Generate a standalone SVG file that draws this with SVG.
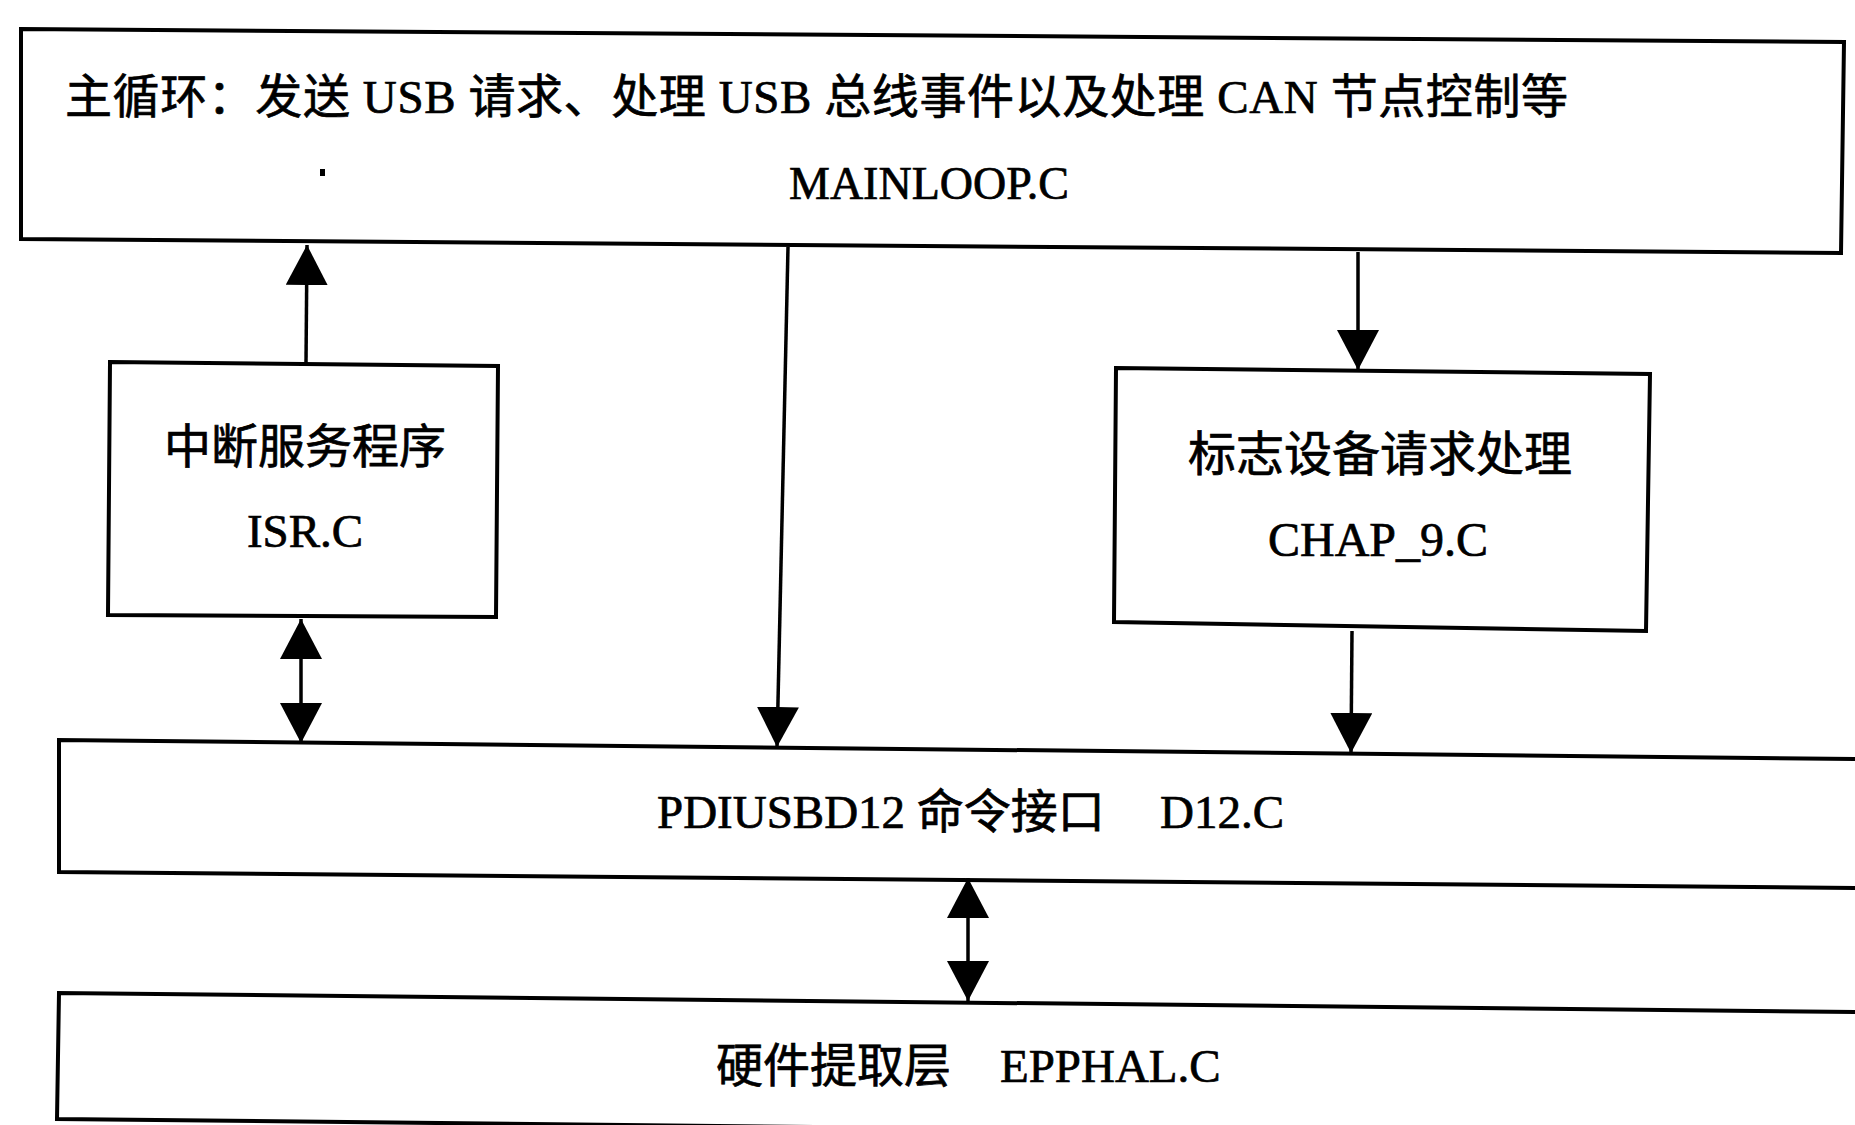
<svg xmlns="http://www.w3.org/2000/svg" width="1855" height="1125" viewBox="0 0 1855 1125">
<style>
.box{fill:none;stroke:#000;stroke-width:4;stroke-linejoin:miter}
.con{fill:none;stroke:#000;stroke-width:3.5}
.t{font-family:"Liberation Serif","Noto Sans CJK SC",serif;fill:#000;stroke:#000;stroke-width:0.7}
.c{text-anchor:middle}
</style>
<defs>
<marker id="ah" markerUnits="userSpaceOnUse" markerWidth="42" markerHeight="42" refX="40" refY="21" orient="auto-start-reverse" viewBox="0 0 42 42">
<path d="M0,0 L40,21 L0,42 Z" fill="#000"/>
</marker>
</defs>
<rect width="1855" height="1125" fill="#fff"/>
<g id="mainloop">
<path class="box" d="M21,29 L1844,42 L1841,253 L21,239 Z"/>
<text class="t" x="65" y="113" font-size="47" textLength="1503" lengthAdjust="spacing">主循环：发送 USB 请求、处理 USB 总线事件以及处理 CAN 节点控制等</text>
<rect x="320" y="169" width="5" height="7" fill="#000"/>
<text class="t" x="789" y="199" font-size="46">MAINLOOP.C</text>
</g>
<g id="isr">
<path class="box" d="M110,362 L498,366 L496,617 L108,615 Z"/>
<text class="t c" x="305" y="463" font-size="47">中断服务程序</text>
<text class="t c" x="305" y="547" font-size="47">ISR.C</text>
</g>
<g id="chap9">
<path class="box" d="M1116,368 L1650,374 L1646,631 L1114,622 Z"/>
<text class="t c" x="1380" y="471" font-size="48">标志设备请求处理</text>
<text class="t c" x="1378" y="556" font-size="48">CHAP_9.C</text>
</g>
<g id="d12">
<path class="box" d="M1857,759 L59,740 L59,872 L1857,888"/>
<text class="t" y="828" font-size="47"><tspan x="657">PDIUSBD12 命令接口</tspan><tspan x="1160">D12.C</tspan></text>
</g>
<g id="epphal">
<path class="box" d="M1857,1012 L59,993 L57,1119 L1857,1138"/>
<text class="t" y="1082" font-size="47"><tspan x="716">硬件提取层</tspan><tspan x="1000">EPPHAL.C</tspan></text>
</g>
<g id="connectors">
<line class="con" x1="306" y1="363" x2="307" y2="245" marker-end="url(#ah)"/>
<line class="con" x1="788" y1="247" x2="777" y2="747" marker-end="url(#ah)"/>
<line class="con" x1="1358" y1="252" x2="1358" y2="370" marker-end="url(#ah)"/>
<line class="con" x1="1352" y1="631" x2="1351" y2="753" marker-end="url(#ah)"/>
<line class="con" x1="301" y1="619" x2="301" y2="743" marker-start="url(#ah)" marker-end="url(#ah)"/>
<line class="con" x1="968" y1="878" x2="968" y2="1001" marker-start="url(#ah)" marker-end="url(#ah)"/>
</g>
</svg>
